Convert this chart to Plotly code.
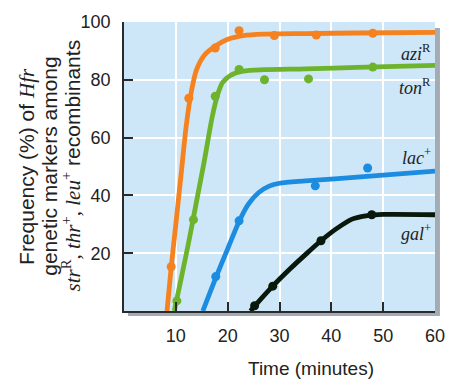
import plotly.graph_objects as go

# ---- data ----
azi_pts_x = [9.1, 12.5, 17.6, 22.2, 29.0, 37.1, 48.0]
azi_pts_y = [15.3, 73.6, 91.0, 97.0, 95.3, 95.5, 96.1]
azi_fit_x = [8.3, 9.1, 10.0, 11.0, 12.0, 13.0, 14.0, 15.5, 17.5, 20.0, 23.0, 27.0, 35.0, 45.0, 60.0]
azi_fit_y = [0, 15, 30, 47, 64, 76, 83.5, 88.5, 91.5, 94.0, 95.3, 95.8, 96.0, 96.2, 96.4]

ton_pts_x = [10.2, 13.4, 17.6, 22.2, 27.1, 35.6, 48.0]
ton_pts_y = [3.5, 31.6, 74.3, 83.6, 80.0, 80.3, 84.4]
ton_fit_x = [9.7, 11.0, 12.5, 14.0, 15.5, 17.0, 18.0, 19.0, 20.5, 23.0, 27.0, 35.0, 45.0, 60.0]
ton_fit_y = [0, 11, 24, 38, 52, 67, 74.5, 79, 81.5, 83, 83.5, 83.8, 84.3, 85.0]

lac_pts_x = [17.7, 22.2, 36.9, 47.0]
lac_pts_y = [11.9, 31.2, 43.3, 49.5]
lac_fit_x = [15.2, 17.7, 20.0, 22.2, 24.0, 26.0, 28.0, 30.0, 35.0, 45.0, 60.0]
lac_fit_y = [0, 11.5, 21.5, 31.0, 37.0, 41.0, 43.2, 44.2, 45.0, 46.3, 48.4]

gal_pts_x = [25.2, 28.7, 38.0, 47.8]
gal_pts_y = [1.8, 8.6, 24.3, 33.3]
gal_fit_x = [24.4, 25.5, 28.7, 32.0, 35.0, 38.0, 41.0, 44.0, 47.0, 50.0, 60.0]
gal_fit_y = [0, 2.3, 8.6, 14.5, 19.5, 24.3, 28.5, 31.8, 33.0, 33.4, 33.3]

x_ticks = [10, 20, 30, 40, 50, 60]
y_ticks = [20, 40, 60, 80, 100]

series = [
    ("azi", "<i>azi</i><sup>R</sup>", azi_pts_x, azi_pts_y, azi_fit_x, azi_fit_y, "#f5821f"),
    ("ton", "<i>ton</i><sup>R</sup>", ton_pts_x, ton_pts_y, ton_fit_x, ton_fit_y, "#6db42c"),
    ("lac", "<i>lac</i><sup>+</sup>", lac_pts_x, lac_pts_y, lac_fit_x, lac_fit_y, "#1c8ce0"),
    ("gal", "<i>gal</i><sup>+</sup>", gal_pts_x, gal_pts_y, gal_fit_x, gal_fit_y, "#08180a"),
]

SERIF = "'Liberation Serif', 'DejaVu Serif', serif"
SANS = "'Liberation Sans', Arial, sans-serif"

fig = go.Figure()
for name, lab, px_, py_, fx, fy, col in series:
    fig.add_trace(go.Scatter(x=fx, y=fy, mode="lines", line=dict(color=col, width=4.8, shape="spline", smoothing=0.8),
                             hoverinfo="skip", showlegend=False, cliponaxis=True))
    fig.add_trace(go.Scatter(x=px_, y=py_, mode="markers", marker=dict(color=col, size=9),
                             showlegend=False, cliponaxis=False))

annotations = []
label_pos = {"azi": 47, "ton": 82, "lac": 153, "gal": 231}
for name, lab, px_, py_, fx, fy, col in series:
    ypx = label_pos[name]
    annotations.append(dict(x=1, xref="paper", xanchor="right", xshift=-2,
                            y=(311 - ypx) / 295, yref="paper", yanchor="middle",
                            text=lab, showarrow=False,
                            font=dict(family=SERIF, size=18, color="#222")))

# y-axis title, three rotated lines
ylines = [
    ("Frequency (%) of <span style='font-family:Liberation Serif'><i>Hfr</i></span>", 26),
    ("genetic markers among", 48),
    ("<span style='font-family:Liberation Serif'><i>str</i><sup>R</sup>, <i>thr</i><sup>+</sup>, <i>leu</i><sup>+</sup></span> recombinants", 71),
]
for txt, xpx in ylines:
    annotations.append(dict(x=(xpx - 124) / 314, xref="paper", xanchor="center",
                            y=(311 - 163) / 295, yref="paper", yanchor="middle",
                            text=txt, textangle=-90, showarrow=False,
                            font=dict(family=SANS, size=21, color="#222")))

annotations.append(dict(x=(313 - 124) / 314, xref="paper", xanchor="center",
                        y=-(370 - 311) / 295, yref="paper", yanchor="middle",
                        text="Time (minutes)", showarrow=False,
                        font=dict(family=SANS, size=19, color="#222")))

shapes = [
    # drop shadow
    dict(type="rect", xref="paper", yref="paper", x0=4 / 314, x1=1 + 5 / 314, y0=-5 / 295, y1=1 - 6 / 295,
         fillcolor="#a3acb4", line=dict(width=0), layer="below"),
    dict(type="rect", xref="paper", yref="paper", x0=0, x1=1, y0=0, y1=1,
         fillcolor="#cde6f8", line=dict(width=0), layer="below"),
]

fig.update_layout(
    width=457, height=387,
    margin=dict(l=124, r=19, t=16, b=76),
    paper_bgcolor="white", plot_bgcolor="rgba(0,0,0,0)",
    showlegend=False,
    annotations=annotations, shapes=shapes,
    font=dict(family=SANS, size=18, color="#222"),
)
fig.update_xaxes(range=[0, 60], tickvals=x_ticks, ticktext=[str(v) for v in x_ticks],
                 showgrid=True, gridcolor="white", gridwidth=2,
                 showline=True, linecolor="#2a2a2a", linewidth=1.5,
                 ticks="inside", ticklen=9, tickwidth=1.5, tickcolor="#2a2a2a",
                 ticklabelstandoff=8, zeroline=False, tickfont=dict(size=18))
fig.update_yaxes(range=[0, 100], tickvals=y_ticks, ticktext=[str(v) for v in y_ticks],
                 showgrid=True, gridcolor="white", gridwidth=2,
                 showline=True, linecolor="#2a2a2a", linewidth=1.5,
                 ticks="inside", ticklen=9, tickwidth=1.5, tickcolor="#2a2a2a",
                 ticklabelstandoff=8, zeroline=False, tickfont=dict(size=18))

fig.write_html("out.html", config={"displayModeBar": False},
               post_script="document.body.style.margin='0';document.body.style.overflow='hidden';")
